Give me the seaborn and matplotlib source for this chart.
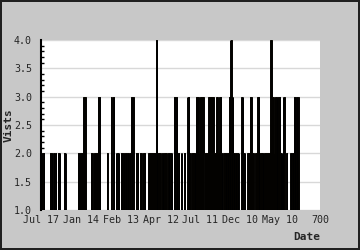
import numpy as np
import pandas as pd
import matplotlib
matplotlib.use("Agg")
import matplotlib.pyplot as plt
import seaborn as sns
from matplotlib.ticker import MultipleLocator

# Runs of days (start, end inclusive) with their visit counts
run_start = [3, 22, 31, 35, 43, 57, 92, 107, 125, 133, 143, 165, 175, 180, 188, 200, 210, 221,
             226, 238, 248, 256, 270, 288, 293, 304, 308, 318, 333, 342, 351, 358, 367, 373,
             378, 389, 396, 399, 411, 420, 425, 435, 440, 444, 448, 453, 458, 471, 475, 480,
             483, 502, 503, 508, 518, 524, 529, 538, 543, 549, 560, 576, 579, 584, 587, 594,
             601, 607, 616, 626, 634, 639, 640]
run_end = [8, 27, 33, 38, 48, 62, 106, 112, 129, 142, 148, 167, 177, 183, 196, 208, 219, 225,
           232, 243, 252, 261, 287, 291, 300, 306, 315, 329, 341, 347, 354, 362, 372, 375,
           386, 395, 398, 408, 419, 423, 433, 439, 443, 447, 452, 454, 470, 473, 478, 482,
           496, 502, 507, 512, 523, 528, 533, 542, 547, 557, 575, 578, 583, 586, 592, 600,
           605, 611, 618, 633, 638, 639, 646]
run_visits = [2, 2, 2, 2, 2, 2, 2, 3, 2, 2, 3, 2, 3, 3, 2, 2, 2, 2,
              3, 2, 2, 2, 2, 4, 2, 2, 2, 2, 3, 2, 2, 2, 3, 2,
              2, 3, 2, 3, 2, 3, 3, 2, 3, 2, 3, 2, 2, 3, 4, 3,
              2, 2, 3, 2, 2, 3, 2, 2, 3, 2, 2, 4, 3, 2, 3, 3,
              2, 3, 2, 2, 3, 2, 3]

tick_values = [0, 100, 200, 300, 400, 500, 600, 700]
tick_labels = ["Jul 17", "Jan 14", "Feb 13", "Apr 12", "Jul 11", "Dec 10", "May 10", "700"]

days, visits = [], []
for s, e, v in zip(run_start, run_end, run_visits):
    for d in range(s, e + 1):
        days.append(d)
        visits.append(v)
df = pd.DataFrame({"day": days, "visits": visits})

sns.set_style("white")
plt.rcParams["font.family"] = ["DejaVu Sans Mono"]

fig = plt.figure(figsize=(3.6, 2.5), dpi=100, facecolor="#c8c8c8",
                 edgecolor="#202020", linewidth=1.5)
ax = fig.add_axes([41/360, 1-210/250, 279/360, 170/250])
ax.set_facecolor("white")

sns.barplot(data=df, x="day", y="visits", native_scale=True, errorbar=None,
            color="#f0a000", edgecolor="black", linewidth=0.7, width=0.8,
            ax=ax, zorder=2)

ax.set_xlim(0, 700)
ax.set_ylim(1.0, 4.0)
ax.yaxis.set_major_locator(MultipleLocator(0.5))
ax.yaxis.set_minor_locator(MultipleLocator(0.1))
ax.set_xticks(tick_values)
ax.set_xticklabels(tick_labels)
ax.yaxis.set_major_formatter(matplotlib.ticker.FormatStrFormatter("%.1f"))
ax.grid(axis="y", which="major", color="#d8d8d8", linewidth=1, zorder=0)
ax.set_axisbelow(True)

for side in ["top", "right", "bottom"]:
    ax.spines[side].set_visible(False)
ax.spines["left"].set_color("black")
ax.spines["left"].set_linewidth(1.5)

ax.tick_params(axis="y", which="major", direction="in", length=3, width=1,
               color="black", labelsize=7.2, pad=6.5)
ax.tick_params(axis="y", which="minor", direction="in", length=1.8, width=1,
               color="black", left=True)
ax.tick_params(axis="x", which="major", direction="in", length=3.5, width=1,
               color="black", labelsize=7.2, pad=3.5)

ax.set_ylabel("Vists", fontsize=8, fontweight="bold")
ax.yaxis.set_label_coords(-0.098, 0.5)
ax.set_xlabel("Date", fontsize=8, fontweight="bold", loc="right", labelpad=5)

fig.savefig("out.png", dpi=100, facecolor=fig.get_facecolor(),
            edgecolor=fig.get_edgecolor())
